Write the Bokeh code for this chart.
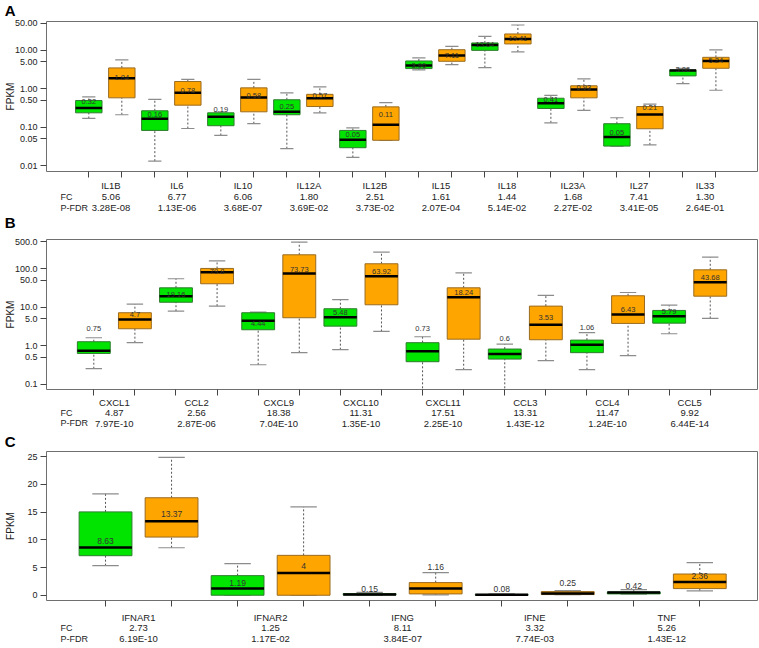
import numpy as np
import pandas as pd
from bokeh.plotting import figure
from bokeh.models import ColumnDataSource, Range1d, FixedTicker
from bokeh.layouts import column
from bokeh.embed import file_html
from bokeh.resources import INLINE
from bokeh.core.properties import value

FONT = "Liberation Sans"
FONT_V = value(FONT)
GREEN = "#00e400"
GREEN_EDGE = "#2f7d2f"
ORANGE = "#ffa500"
ORANGE_EDGE = "#9a6b20"
W = 759

# ---------------- Panel A ----------------
a_genes = ["IL1B", "IL6", "IL10", "IL12A", "IL12B", "IL15", "IL18", "IL23A", "IL27", "IL33"]
a_fc = ["5.06", "6.77", "6.06", "1.80", "2.51", "1.61", "1.44", "1.68", "7.41", "1.30"]
a_pfdr = ["3.28E-08", "1.13E-06", "3.68E-07", "3.69E-02", "3.73E-02",
          "2.07E-04", "5.14E-02", "2.27E-02", "3.41E-05", "2.64E-01"]
a_lo = [0.17, 0.212, 0.0132, 0.093, 0.0615, 0.124, 0.0278, 0.238, 0.0165, 0.046,
        3.11, 4.27, 3.57, 9.12, 0.131, 0.274, 0.0325, 0.035, 1.37, 0.92]
a_q1 = [0.238, 0.584, 0.083, 0.376, 0.11, 0.253, 0.212, 0.347, 0.0295, 0.046,
        3.36, 5.2, 10.0, 14.7, 0.308, 0.584, 0.0325, 0.0917, 2.17, 3.42]
a_med = [0.32, 1.88, 0.167, 0.79, 0.188, 0.595, 0.253, 0.57, 0.0475, 0.116,
         4.02, 7.31, 13.8, 19.8, 0.42, 0.96, 0.0556, 0.215, 2.98, 5.3]
a_q3 = [0.497, 3.5, 0.269, 1.55, 0.238, 1.06, 0.52, 0.72, 0.083, 0.34,
        5.3, 10.4, 15.6, 26.7, 0.57, 1.2, 0.124, 0.347, 3.11, 6.6]
a_hi = [0.62, 5.65, 0.53, 1.77, 0.25, 1.77, 0.79, 1.13, 0.097, 0.44,
        6.37, 12.7, 23.1, 45.7, 0.68, 1.82, 0.177, 0.40, 3.42, 10.3]
a_lbl = ["0.32", "1.84", "0.16", "0.78", "0.19", "0.58", "0.25", "0.57", "0.05", "0.11",
         "3.96", "7.11", "13.64", "19.41", "0.41", "0.93", "0.05", "0.21", "3.06", "5.24"]
a_mean = [0.47, 1.93, 0.212, 0.90, 0.29, 0.68, 0.35, 0.67, 0.066, 0.215,
          4.1, 7.3, 14.0, 19.8, 0.52, 1.08, 0.073, 0.32, 3.16, 5.4]
a_yticks = [0.01, 0.05, 0.1, 0.5, 1, 5, 10, 50]
a_yticklabels = ["0.01", "0.05", "0.10", "0.50", "1.00", "5.00", "10.00", "50.00"]

# ---------------- Panel B ----------------
b_genes = ["CXCL1", "CCL2", "CXCL9", "CXCL10", "CXCL11", "CCL3", "CCL4", "CCL5"]
b_fc = ["4.87", "2.56", "18.38", "11.31", "17.51", "13.31", "11.47", "9.92"]
b_pfdr = ["7.97E-10", "2.87E-06", "7.04E-10", "1.35E-10",
          "2.25E-10", "1.43E-12", "1.24E-10", "6.44E-14"]
b_lo = [0.253, 1.2, 7.9, 10.7, 0.32, 0.66, 0.79, 2.35,
        0.03, 0.238, 0.03, 0.41, 0.238, 0.55, 2.05, 5.12]
b_q1 = [0.63, 2.76, 13.5, 40.8, 2.6, 5.34, 3.23, 11.6,
        0.384, 1.48, 0.449, 1.43, 0.66, 3.8, 3.86, 19.4]
b_med = [0.74, 4.82, 19.4, 81.7, 4.46, 75.5, 5.53, 64.2,
         0.72, 18.3, 0.605, 3.51, 1.06, 6.5, 5.87, 44.9]
b_q3 = [1.27, 7.2, 32.0, 102.0, 7.2, 231.0, 9.15, 135.0,
        1.2, 32.0, 0.82, 10.7, 1.4, 19.9, 8.26, 94.0]
b_hi = [1.61, 12.0, 55.0, 161.0, 7.46, 491.0, 15.7, 270.0,
        1.71, 78.7, 1.1, 20.3, 2.18, 24.2, 11.3, 200.0]
b_lbl = ["0.75", "4.7", "19.16", "79.8", "4.44", "73.73", "5.48", "63.92",
         "0.73", "18.24", "0.6", "3.53", "1.06", "6.43", "5.79", "43.68"]
b_mean = [2.76, 6.6, 21.1, 83.0, 3.72, 94.0, 7.46, 86.0,
          2.76, 24.2, 1.57, 5.53, 3.04, 8.77, 7.63, 59.0]
b_yticks = [0.1, 0.5, 1, 5, 10, 50, 100, 500]
b_yticklabels = ["0.1", "0.5", "1.0", "5.0", "10.0", "50.0", "100.0", "500.0"]

# ---------------- Panel C ----------------
c_genes = ["IFNAR1", "IFNAR2", "IFNG", "IFNE", "TNF"]
c_fc = ["2.73", "1.25", "8.11", "3.32", "5.26"]
c_pfdr = ["6.19E-10", "1.17E-02", "3.84E-07", "7.74E-03", "1.43E-12"]
c_lo = [5.34, 8.57, 0.0, 0.0, 0.0, 0.05, 0.0, 0.10, 0.20, 0.77]
c_q1 = [7.14, 10.5, 0.0, 0.0, 0.05, 0.24, 0.02, 0.12, 0.24, 1.2]
c_med = [8.63, 13.37, 1.2, 4.0, 0.15, 1.2, 0.08, 0.30, 0.48, 2.4]
c_q3 = [15.05, 17.6, 3.54, 7.2, 0.30, 2.28, 0.15, 0.66, 0.60, 3.83]
c_hi = [18.3, 24.9, 5.7, 15.95, 0.50, 4.08, 0.25, 0.85, 1.0, 5.88]
c_lbl = ["8.63", "13.37", "1.19", "4", "0.15", "1.16", "0.08", "0.25", "0.42", "2.36"]
c_mean = [9.83, 14.6, 2.28, 5.2, 1.2, 5.16, 1.2, 2.16, 1.67, 3.54]
c_yticks = [0, 5, 10, 15, 20, 25]
c_yticklabels = ["0", "5", "10", "15", "20", "25"]

LEFT, RIGHT = 46, 2


def make_panel(letter, genes, fc, pfdr, lo, q1, med, q3, hi, lbl, mean,
               y_type, y_rng, xr, yticks, yticklabels,
               head_h, top, frame_h, bottom, foot_h, rows_y, lbl_size, ylab_standoff,
               row_shift):
    n = len(lo)
    x = np.arange(1, n + 1, dtype=float)
    df = pd.DataFrame(dict(x=x, lo=lo, q1=q1, med=med, q3=q3, hi=hi, lbl=lbl, mean=mean))
    df["fill"] = [GREEN if i % 2 == 0 else ORANGE for i in range(n)]
    df["edge"] = [GREEN_EDGE if i % 2 == 0 else ORANGE_EDGE for i in range(n)]
    df["xl"] = df.x - 0.4
    df["xr"] = df.x + 0.4
    df["cl"] = df.x - 0.2
    df["cr"] = df.x + 0.2
    src = ColumnDataSource(df)

    # ---- header strip: the panel letter is the label of an empty left axis
    head = figure(width=W, height=head_h, x_range=Range1d(*xr), y_range=Range1d(0, 1),
                  output_backend="svg", toolbar_location=None, x_axis_location=None,
                  min_border_left=LEFT, min_border_right=RIGHT, min_border_top=0, min_border_bottom=0)
    head.xgrid.visible = False
    head.ygrid.visible = False
    head.outline_line_color = None
    hy = head.yaxis[0]
    hy.ticker = FixedTicker(ticks=[])
    hy.axis_line_color = None
    hy.major_tick_line_color = None
    hy.minor_tick_line_color = None
    hy.major_label_text_font_size = "0px"
    hy.major_label_standoff = 0
    hy.major_tick_out = 0
    hy.axis_label = letter
    hy.axis_label_orientation = "horizontal"
    hy.axis_label_text_font = FONT
    hy.axis_label_text_font_size = "15px"
    hy.axis_label_text_font_style = "bold"
    hy.axis_label_text_color = "black"
    hy.axis_label_standoff = 31

    # ---- main box plot
    p = figure(width=W, height=top + frame_h + bottom, y_axis_type=y_type,
               x_range=Range1d(*xr), y_range=Range1d(*y_rng),
               output_backend="svg", toolbar_location=None,
               min_border_left=LEFT, min_border_right=RIGHT,
               min_border_top=top, min_border_bottom=bottom)
    p.xgrid.visible = False
    p.ygrid.visible = False
    p.outline_line_color = "#6f6f6f"

    p.segment(x0="x", x1="x", y0="q3", y1="hi", source=src, line_color="#555555",
              line_dash="2 2", line_width=1)
    p.segment(x0="x", x1="x", y0="lo", y1="q1", source=src, line_color="#555555",
              line_dash="2 2", line_width=1)
    p.segment(x0="cl", x1="cr", y0="hi", y1="hi", source=src, line_color="#8c8c8c", line_width=1.2)
    p.segment(x0="cl", x1="cr", y0="lo", y1="lo", source=src, line_color="#8c8c8c", line_width=1.2)
    p.vbar(x="x", width=0.8, bottom="q1", top="q3", source=src,
           fill_color="fill", line_color="edge", line_width=1)
    p.segment(x0="xl", x1="xr", y0="med", y1="med", source=src, line_color="black", line_width=2.5)
    p.text(x="x", y="mean", text="lbl", source=src, text_align="center", text_baseline="middle",
           text_font_size=lbl_size, text_color="#333333", text_font=FONT_V)

    ax = p.yaxis[0]
    ax.ticker = FixedTicker(ticks=yticks)
    ax.major_label_overrides = {t: s for t, s in zip(yticks, yticklabels)}
    ax.minor_tick_line_color = None
    ax.major_tick_out = 6
    ax.major_tick_in = 0
    ax.major_label_standoff = 3
    ax.axis_line_color = None
    ax.major_tick_line_color = "#444444"
    ax.major_label_text_font = FONT
    ax.major_label_text_font_size = "9px"
    ax.major_label_text_color = "#222222"
    ax.axis_label = "FPKM"
    ax.axis_label_text_font = FONT
    ax.axis_label_text_font_size = "10px"
    ax.axis_label_text_font_style = "normal"
    ax.axis_label_text_color = "#222222"
    ax.axis_label_standoff = ylab_standoff

    bx = p.xaxis[0]
    bx.ticker = FixedTicker(ticks=list(x))
    bx.major_label_overrides = {float(t): "" for t in x}
    bx.major_label_text_font_size = "0px"
    bx.major_label_standoff = 0
    bx.minor_tick_line_color = None
    bx.major_tick_out = 6
    bx.major_tick_in = 0
    bx.axis_line_color = None
    bx.major_tick_line_color = "#444444"

    # ---- footer strip: gene names, FC and P-FDR on the plot's own x scale
    foot = figure(width=W, height=foot_h, x_range=Range1d(*xr), y_range=Range1d(foot_h, 0),
                  output_backend="svg", toolbar_location=None,
                  x_axis_location=None, y_axis_location=None,
                  min_border_left=LEFT, min_border_right=RIGHT, min_border_top=0, min_border_bottom=0)
    foot.xgrid.visible = False
    foot.ygrid.visible = False
    foot.outline_line_color = None
    gx = [2 * k + 1.5 + row_shift for k in range(len(genes))]
    fsrc = ColumnDataSource(dict(
        x=gx * 3,
        y=[rows_y[0]] * len(genes) + [rows_y[1]] * len(genes) + [rows_y[2]] * len(genes),
        t=list(genes) + list(fc) + list(pfdr)))
    foot.text(x="x", y="y", text="t", source=fsrc, text_align="center", text_baseline="middle",
              text_font=FONT_V, text_font_size="9.5px", text_color="#222222")
    u = (xr[1] - xr[0]) / (W - LEFT - RIGHT)
    hx = xr[0] + 14 * u
    foot.text(x=[hx, hx], y=[rows_y[1], rows_y[2]], text=["FC", "P-FDR"], text_align="left",
              text_baseline="middle", text_font=FONT_V, text_font_size="9px", text_color="#222222")
    return [head, p, foot]


panels = []
panels += make_panel("A", a_genes, a_fc, a_pfdr, a_lo, a_q1, a_med, a_q3, a_hi, a_lbl, a_mean,
                     "log", (0.0071, 56.3), (-0.282, 21.26), a_yticks, a_yticklabels,
                     19, 2, 150, 8, 35, (6, 17.7, 28.3), "7.5px", -4, 0.17)
panels += make_panel("B", b_genes, b_fc, b_pfdr, b_lo, b_q1, b_med, b_q3, b_hi, b_lbl, b_mean,
                     "log", (0.0728, 577.0), (-0.151, 17.15), b_yticks, b_yticklabels,
                     16, 9, 150, 7, 36, (5.7, 16.3, 26.7), "7.5px", -4, 0.0)
panels += make_panel("C", c_genes, c_fc, c_pfdr, c_lo, c_q1, c_med, c_q3, c_hi, c_lbl, c_mean,
                     "linear", (-0.95, 25.95), (0.106, 10.874), c_yticks, c_yticklabels,
                     18, 1, 149, 8, 40, (8.7, 19.3, 30.3), "8.5px", 8, 0.0)

layout = column(*panels, spacing=0)
open("out.html", "w").write(file_html(layout, INLINE))
